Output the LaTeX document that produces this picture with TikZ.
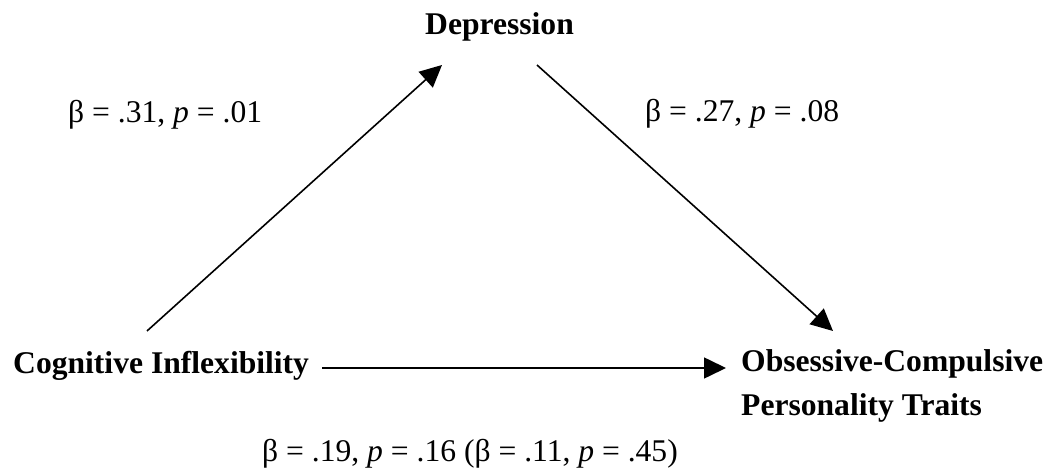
\documentclass[tikz,border=0pt]{standalone}
\usepackage{fontspec}
\setmainfont{Liberation Serif}
\usetikzlibrary{arrows.meta}
\begin{document}
\begin{tikzpicture}[x=1pt,y=-1pt,
  lbl/.style={anchor=base west, inner sep=0pt, font=\fontsize{31.6}{44}\selectfont\bfseries, align=left},
  coef/.style={anchor=base west, inner sep=0pt, font=\fontsize{31.6}{38}\selectfont},
  link/.style={line width=1.6pt, -{Triangle[length=22pt,width=21pt]}}]
\useasboundingbox (0,0) rectangle (1053,470);
% variables
\node[lbl] (dep) at (425,35) {Depression};
\node[lbl] (ci) at (13,374) {Cognitive Inflexibility};
\node[lbl] (oc) at (741,416) {Obsessive-Compulsive\\Personality Traits};
% coefficients
\node[coef] (a) at (68,123) {β = .31, \textit{p} = .01};
\node[coef] (b) at (645,122) {β = .27, \textit{p} = .08};
\node[coef] (c) at (262,461) {β = .19, \textit{p} = .16 (β = .11, \textit{p} = .45)};
% connector ends
\coordinate (ciTop) at (147,331);
\coordinate (depIn) at (442,65);
\coordinate (depOut) at (537,65);
\coordinate (ocTop) at (833,331);
\coordinate (ciRight) at (322,368);
\coordinate (ocLeft) at (726,368);
\draw[link] (ciTop) -- (depIn);
\draw[link] (depOut) -- (ocTop);
\draw[link] (ciRight) -- (ocLeft);
\end{tikzpicture}
\end{document}
